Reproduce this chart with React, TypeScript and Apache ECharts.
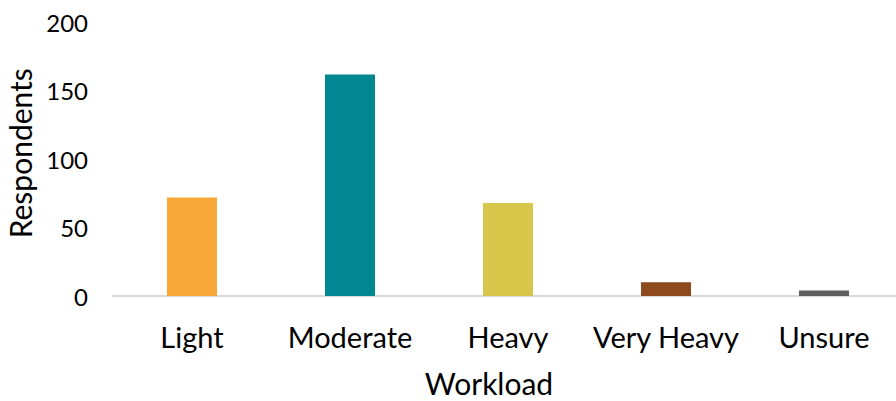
import React, { useEffect, useRef } from "react";
import * as echarts from "echarts";

const categories: string[] = ["Light", "Moderate", "Heavy", "Very Heavy", "Unsure"];
const respondents: number[] = [72, 162, 68, 10, 4];
const barColors: string[] = ["#F7A738", "#008792", "#D6C74B", "#8E4A1C", "#5E5E5E"];

const FONT = "Lato, 'Open Sans', sans-serif";

export default function App() {
  const ref = useRef<HTMLDivElement>(null);

  useEffect(() => {
    if (!ref.current) return;
    const chart = echarts.init(ref.current, null, { renderer: "svg" });
    chart.setOption({
      animation: false,
      backgroundColor: "#ffffff",
      grid: {
        left: 113,
        top: 22.5,
        width: 790,
        height: 273.5,
        containLabel: false,
        outerBoundsMode: "none",
      },
      xAxis: {
        type: "category",
        data: categories,
        name: "Workload",
        nameLocation: "middle",
        nameGap: 72,
        nameTextStyle: {
          fontFamily: FONT,
          fontSize: 30,
          color: "#000",
          padding: [0, 38, 0, 0],
        },
        axisLine: { show: true, lineStyle: { color: "#d9d9d9", width: 2 } },
        axisTick: { show: false },
        axisLabel: {
          fontFamily: FONT,
          fontSize: 29,
          color: "#000",
          margin: 26,
          interval: 0,
        },
      },
      yAxis: {
        type: "value",
        min: 0,
        max: 200,
        interval: 50,
        name: "Respondents",
        nameLocation: "middle",
        nameGap: 76,
        nameTextStyle: {
          fontFamily: FONT,
          fontSize: 30,
          color: "#000",
          padding: [0, 0, 0, 12],
        },
        axisLine: { show: false },
        axisTick: { show: false },
        splitLine: { show: false },
        axisLabel: { fontFamily: FONT, fontSize: 24, color: "#000", margin: 25 },
      },
      series: [
        {
          type: "bar",
          barWidth: 50,
          data: respondents.map((v, i) => ({ value: v, itemStyle: { color: barColors[i] } })),
        },
      ],
    });
    return () => chart.dispose();
  }, []);

  return (
    <div
      ref={ref}
      style={{ position: "absolute", left: 0, top: 0, width: 896, height: 401 }}
    />
  );
}
